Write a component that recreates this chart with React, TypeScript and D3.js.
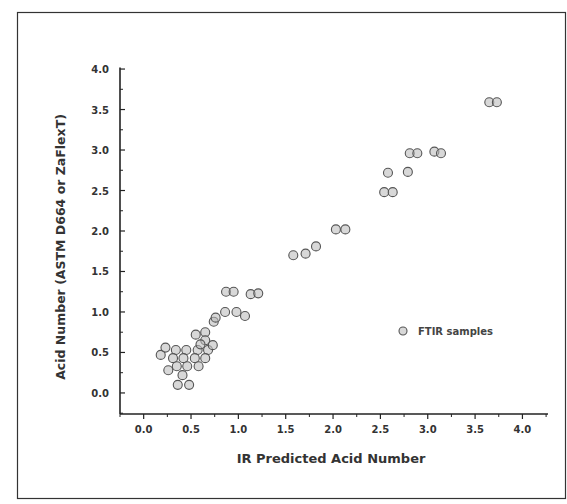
import React from "react";
import * as d3 from "d3";

const predicted = [
  3.65, 3.73, 2.81, 2.89, 3.07, 3.14, 2.58, 2.79, 2.54, 2.63,
  1.58, 1.71, 1.82, 2.03, 2.13, 0.87, 0.95, 1.13, 1.21, 0.86,
  0.98, 1.07, 0.74, 0.65,
  0.34, 0.45, 0.57, 0.68, 0.31, 0.42, 0.54, 0.65, 0.35, 0.46,
  0.58, 0.18, 0.23, 0.55, 0.65, 0.60, 0.73, 0.36, 0.48, 0.26, 0.41, 0.76,
];
const measured = [
  3.59, 3.59, 2.96, 2.96, 2.98, 2.96, 2.72, 2.73, 2.48, 2.48,
  1.70, 1.72, 1.81, 2.02, 2.02, 1.25, 1.25, 1.22, 1.23, 1.00,
  1.00, 0.95, 0.88, 0.75,
  0.53, 0.53, 0.53, 0.53, 0.43, 0.43, 0.43, 0.43, 0.33, 0.33,
  0.33, 0.47, 0.56, 0.72, 0.65, 0.60, 0.59, 0.10, 0.10, 0.28, 0.22, 0.93,
];
const xTicks = ["0.0", "0.5", "1.0", "1.5", "2.0", "2.5", "3.0", "3.5", "4.0"];
const yTicks = ["0.0", "0.5", "1.0", "1.5", "2.0", "2.5", "3.0", "3.5", "4.0"];
const xLabel = "IR Predicted Acid Number";
const yLabel = "Acid Number (ASTM D664 or ZaFlexT)";
const legendLabel = "FTIR samples";

export default function App() {
  const W = 567, H = 504;
  const x = d3.scaleLinear().domain([-0.25, 4.27]).range([120, 548]);
  const y = d3.scaleLinear().domain([-0.26, 4.05]).range([414, 65]);
  const font = "'DejaVu Sans', Verdana, sans-serif";
  const minorX = d3.range(-0.25, 4.26, 0.25).filter((v) => Math.abs(v * 2 - Math.round(v * 2)) > 0.01);
  const minorY = d3.range(-0.25, 4.01, 0.25).filter((v) => Math.abs(v * 2 - Math.round(v * 2)) > 0.01);
  const pts = predicted.map((p, i) => [p, measured[i]]);
  return (
    <svg width={W} height={H} style={{ position: "absolute", left: 0, top: 0, background: "#fff" }}>
      <rect x={17.5} y={12.5} width={548} height={486} fill="#fff" stroke="#333" strokeWidth={1.2} />
      <line x1={x(-0.25)} x2={x(-0.25)} y1={y(4.02)} y2={y(-0.26)} stroke="#222" strokeWidth={1.6} />
      <line x1={x(-0.25)} x2={x(4.27)} y1={y(-0.26)} y2={y(-0.26)} stroke="#222" strokeWidth={1.6} />
      {xTicks.map((t) => (
        <g key={"xt" + t}>
          <line x1={x(+t)} x2={x(+t)} y1={y(-0.26)} y2={y(-0.26) + 5} stroke="#222" strokeWidth={1.2} />
          <text x={x(+t)} y={y(-0.26) + 19} textAnchor="middle" fontFamily={font} fontSize={10} fontWeight="bold" fill="#333">{t}</text>
        </g>
      ))}
      {minorX.map((v) => (
        <line key={"mx" + v} x1={x(v)} x2={x(v)} y1={y(-0.26)} y2={y(-0.26) + 3} stroke="#222" strokeWidth={1} />
      ))}
      {yTicks.map((t) => (
        <g key={"yt" + t}>
          <line x1={x(-0.25)} x2={x(-0.25) + 5} y1={y(+t)} y2={y(+t)} stroke="#222" strokeWidth={1.2} />
          <text x={109} y={y(+t) + 4} textAnchor="end" fontFamily={font} fontSize={10} fontWeight="bold" fill="#333">{t}</text>
        </g>
      ))}
      {minorY.map((v) => (
        <line key={"my" + v} x1={x(-0.25)} x2={x(-0.25) + 3} y1={y(v)} y2={y(v)} stroke="#222" strokeWidth={1} />
      ))}
      <text x={331} y={463} textAnchor="middle" fontFamily={font} fontSize={13} fontWeight="bold" fill="#333">{xLabel}</text>
      <text transform={`translate(65,247) rotate(-90)`} textAnchor="middle" fontFamily={font} fontSize={12.5} fontWeight="bold" fill="#333">{yLabel}</text>
      {pts.map(([px, py], i) => (
        <circle key={i} cx={x(px)} cy={y(py)} r={4.5} fill="#b8b8b8" fillOpacity={0.55} stroke="#555" strokeWidth={1.1} />
      ))}
      <circle cx={403} cy={331} r={4} fill="#b8b8b8" fillOpacity={0.55} stroke="#555" strokeWidth={1.1} />
      <text x={418} y={335} fontFamily={font} fontSize={10} fontWeight="bold" fill="#444">{legendLabel}</text>
    </svg>
  );
}
